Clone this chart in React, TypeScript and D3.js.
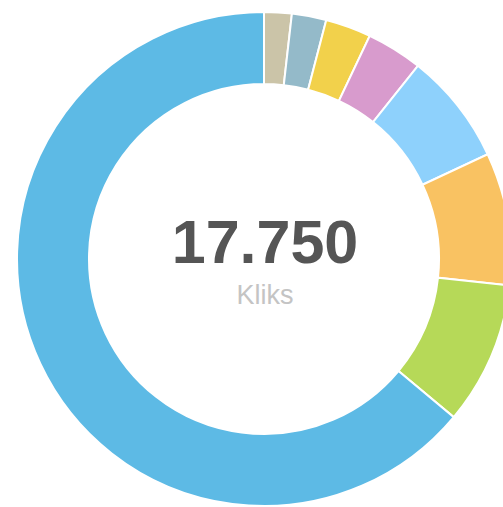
import { useEffect, useRef } from "react";
import * as d3 from "d3";

// slice values, clockwise from 12 o'clock
const labels = ["A", "B", "C", "D", "E", "F", "G", "H"];
const values = [320, 400, 530, 650, 1300, 1540, 1660, 11350];
const colors = [
  "#cbc4a8",
  "#94bac9",
  "#f2d14b",
  "#d89bcd",
  "#8ed1fc",
  "#f9c262",
  "#b6d958",
  "#5dbae5",
];
const totalLabel = "17.750";
const subLabel = "Kliks";

export default function App() {
  const svgRef = useRef<SVGSVGElement | null>(null);

  useEffect(() => {
    const width = 503;
    const height = 507;
    const cx = 264;
    const cy = 259;
    const outer = 247;
    const inner = 175;

    const svg = d3
      .select(svgRef.current)
      .attr("width", width)
      .attr("height", height);
    svg.selectAll("*").remove();

    const data = labels.map((l, i) => ({ label: l, value: values[i], color: colors[i] }));

    const pie = d3
      .pie<{ label: string; value: number; color: string }>()
      .value((d) => d.value)
      .sort(null);

    const arc = d3
      .arc<d3.PieArcDatum<{ label: string; value: number; color: string }>>()
      .innerRadius(inner)
      .outerRadius(outer);

    const g = svg.append("g").attr("transform", `translate(${cx},${cy})`);

    g.selectAll("path")
      .data(pie(data))
      .join("path")
      .attr("d", arc)
      .attr("fill", (d) => d.data.color)
      .attr("stroke", "#fff")
      .attr("stroke-width", 2);

    g.append("text")
      .attr("x", 1)
      .attr("y", 4)
      .attr("text-anchor", "middle")
      .attr("font-family", "Liberation Sans, Arial, sans-serif")
      .attr("font-weight", "bold")
      .attr("font-size", "61px")
      .attr("fill", "#555555")
      .text(totalLabel);

    g.append("text")
      .attr("x", 1)
      .attr("y", 45)
      .attr("text-anchor", "middle")
      .attr("font-family", "Liberation Sans, Arial, sans-serif")
      .attr("font-size", "27px")
      .attr("fill", "#c4c4c4")
      .text(subLabel);
  }, []);

  return (
    <div style={{ position: "absolute", left: 0, top: 0, width: 503, height: 507, background: "#fff" }}>
      <svg ref={svgRef} style={{ display: "block" }}></svg>
    </div>
  );
}
